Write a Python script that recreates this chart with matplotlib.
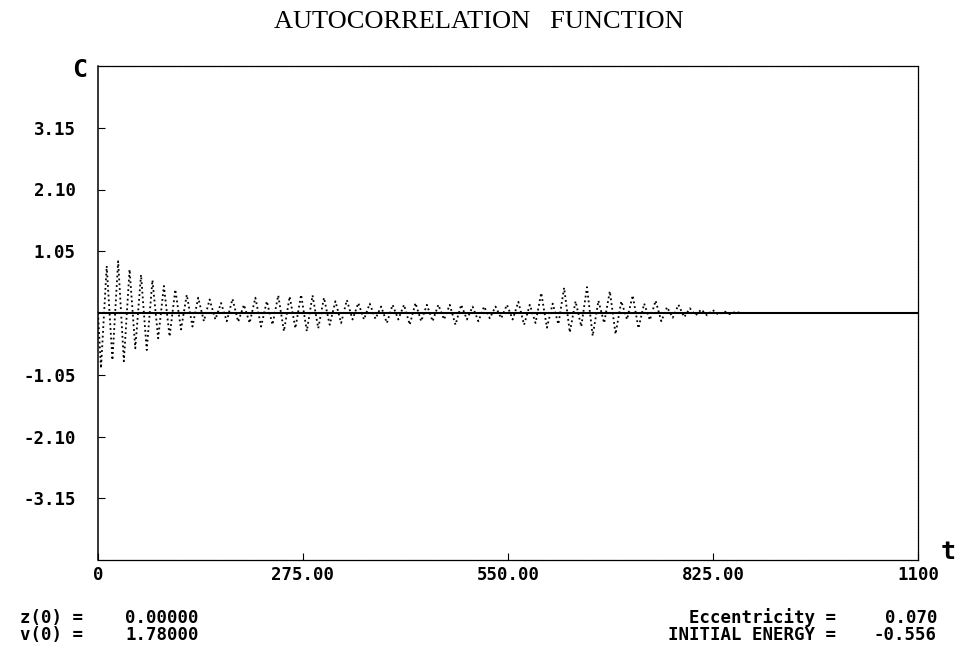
import numpy as np
import matplotlib.pyplot as plt

# values (one trough + one peak per cycle)
c_trough = [-0.94, -0.80, -0.82, -0.60, -0.63, -0.43, -0.40, -0.28, -0.23, -0.14,
            -0.11, -0.14, -0.15, -0.17, -0.23, -0.20, -0.31, -0.26, -0.31, -0.26,
            -0.20, -0.17, -0.11, -0.11, -0.10, -0.17, -0.11, -0.20, -0.14, -0.14,
            -0.11, -0.20, -0.11, -0.14, -0.09, -0.09, -0.11, -0.20, -0.17, -0.25,
            -0.19, -0.33, -0.23, -0.39, -0.17, -0.36, -0.11, -0.26, -0.12, -0.14,
            -0.08, -0.07, -0.04, -0.04, -0.03, -0.02]
c_peak = [0.80, 0.88, 0.74, 0.65, 0.56, 0.46, 0.40, 0.31, 0.26, 0.23,
          0.17, 0.24, 0.14, 0.26, 0.20, 0.30, 0.28, 0.31, 0.30, 0.26,
          0.20, 0.22, 0.17, 0.16, 0.11, 0.14, 0.14, 0.17, 0.14, 0.14,
          0.14, 0.14, 0.11, 0.11, 0.11, 0.14, 0.19, 0.14, 0.34, 0.16,
          0.43, 0.20, 0.44, 0.21, 0.37, 0.20, 0.30, 0.16, 0.21, 0.10,
          0.14, 0.08, 0.06, 0.05, 0.03, 0.02]
t_first = 4.0        # time of first trough
half_period = 7.67   # time between trough and next peak
t_end = 862.0

xticks = [0, 275, 550, 825, 1100]
xticklabels = ['0', '275.00', '550.00', '825.00', '1100']
yticks = [3.15, 2.10, 1.05, -1.05, -2.10, -3.15]
yticklabels = ['3.15', '2.10', '1.05', '-1.05', '-2.10', '-3.15']

info_left = [('z(0) =', '0.00000'), ('v(0) =', '1.78000')]
info_right = [('Eccentricity =', '0.070'), ('INITIAL ENERGY =', '-0.556')]

# build the oscillation: trough, peak, trough, peak ...
c_ext = np.ravel(np.column_stack([c_trough, c_peak]))
t_ext = t_first + half_period * np.arange(len(c_ext))
tt = np.concatenate([[0.0], t_ext, [t_end]])
cc = np.concatenate([[0.0], c_ext, [0.0]])

W, H = 961, 654
mono = 'DejaVu Sans Mono'
fs = 12.5
top_px, bot_px = 66, 560

fig = plt.figure(figsize=(W / 100, H / 100), dpi=100)
ax = fig.add_axes([98 / W, 1 - bot_px / H, (918 - 98) / W, (bot_px - top_px) / H])

ax.plot(tt, cc, color='black', lw=1.3, ls=':')
ax.axhline(0, color='black', lw=1.5)

ax.set_xlim(0, 1100)
ax.set_ylim(-4.2, 4.2)

ax.set_xticks(xticks)
ax.set_xticklabels(xticklabels, fontfamily=mono, fontweight='bold', fontsize=fs)
ax.set_yticks(yticks)
ax.set_yticklabels(yticklabels, fontfamily=mono, fontweight='bold', fontsize=fs)
ax.tick_params(axis='y', direction='in', length=5, width=0.8, pad=16)
ax.tick_params(axis='x', direction='in', length=5, width=0.8, pad=4)

for side in ['top', 'right', 'bottom']:
    ax.spines[side].set_linestyle((0, (1.5, 0.8)))
    ax.spines[side].set_linewidth(0.9)
ax.spines['left'].set_linewidth(1.1)

# axis letters
fig.text(80 / W, 1 - 70 / H, 'C', fontfamily=mono, fontweight='bold',
         fontsize=18, ha='center', va='center')
fig.text(948 / W, 1 - 552 / H, 't', fontfamily=mono, fontweight='bold',
         fontsize=18, ha='center', va='center')

# title
fig.text(479 / W, 1 - 22 / H, 'AUTOCORRELATION   FUNCTION',
         fontfamily='Liberation Serif', fontsize=19, ha='center', va='center')

# run parameters under the plot
for i, (lab, val) in enumerate(info_left):
    y = 1 - (618 + 17 * i) / H
    fig.text(20 / W, y, lab, fontfamily=mono, fontweight='bold', fontsize=fs,
             ha='left', va='center')
    fig.text(125 / W, y, val, fontfamily=mono, fontweight='bold', fontsize=fs,
             ha='left', va='center')
for i, (lab, val) in enumerate(info_right):
    y = 1 - (618 + 17 * i) / H
    fig.text(836 / W, y, lab, fontfamily=mono, fontweight='bold', fontsize=fs,
             ha='right', va='center')
    fig.text(937 / W, y, val, fontfamily=mono, fontweight='bold', fontsize=fs,
             ha='right', va='center')

fig.savefig('out.png', dpi=100)
